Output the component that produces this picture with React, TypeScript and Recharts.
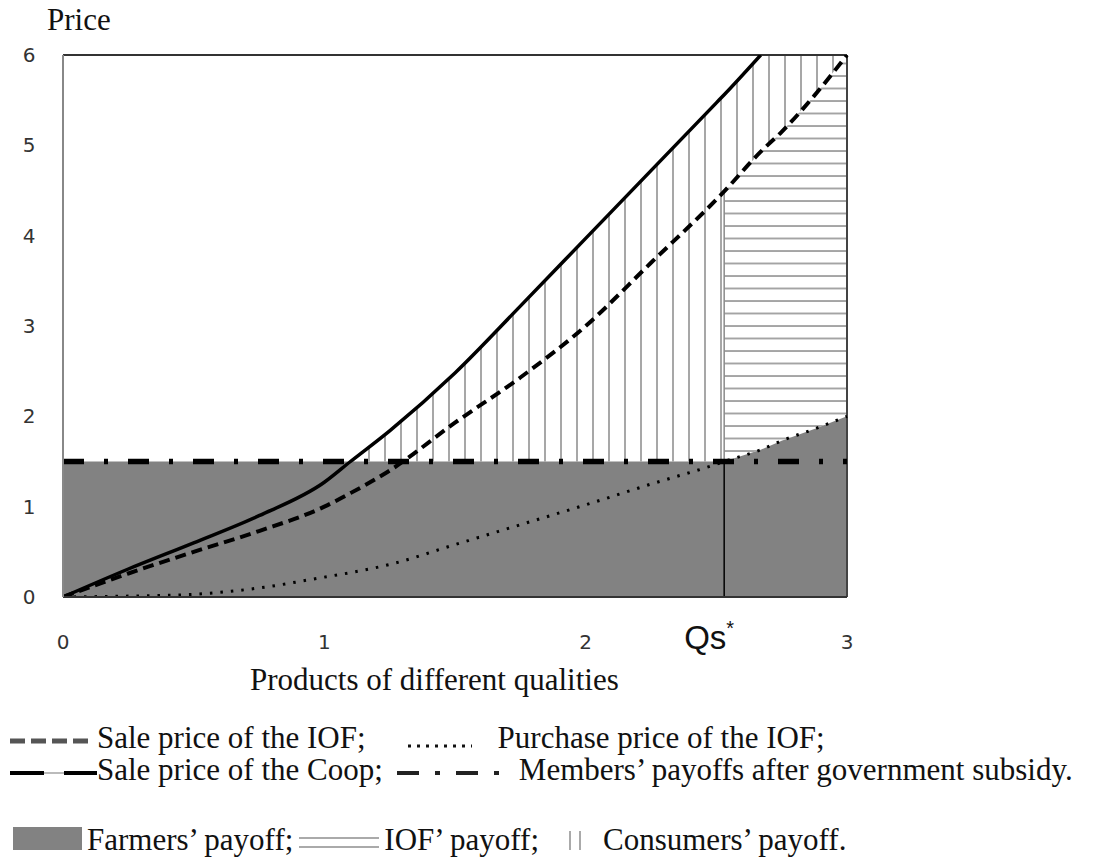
import React from 'react';
import { Area, ComposedChart, Line, ReferenceLine, XAxis, YAxis } from 'recharts';

const QS = 2.53;
const Y_MAX = 6;

// quality axis (x) and the four price curves
const Q = [0, 0.25, 0.5, 0.75, 1, 1.1, 1.25, 1.5, 1.75, 2, 2.25, 2.5, 2.53, 2.67, 2.75, 2.875, 3];
const COOP_SALE = [0, 0.31, 0.6, 0.9, 1.27, 1.5, 1.84, 2.48, 3.22, 3.97, 4.72, 5.47, 5.56, 6.0, null, null, null];
const IOF_SALE = [0, 0.26, 0.5, 0.73, 1.0, 1.15, 1.4, 1.93, 2.43, 3.0, 3.7, 4.4, 4.49, 4.93, 5.15, 5.55, 6.0];
const IOF_BUY = [0, 0.01, 0.03, 0.1, 0.22, 0.27, 0.36, 0.58, 0.8, 1.02, 1.25, 1.47, 1.5, 1.63, 1.73, 1.86, 2.0];
const SUBSIDY = [1.5, 1.5, 1.5, 1.5, 1.5, 1.5, 1.5, 1.5, 1.5, 1.5, 1.5, 1.5, 1.5, 1.5, 1.5, 1.5, 1.5];

const X_TICKS = [0, 1, 2, QS, 3];
const Y_TICKS = [0, 1, 2, 3, 4, 5, 6];

const SERIF = '"Liberation Serif", "Times New Roman", serif';
const TICK_FONT = '"DejaVu Sans", sans-serif';
const FARM_GRAY = '#828282';
const HATCH = '#8a8a8a';

const rows = Q.map((q, i) => {
  const coop = COOP_SALE[i];
  const top = coop == null ? Y_MAX : coop;
  return {
    q,
    coop,
    iofSale: IOF_SALE[i],
    iofBuy: IOF_BUY[i],
    subsidy: SUBSIDY[i],
    farmers: q <= QS ? SUBSIDY[i] : IOF_BUY[i],
    consumersLeft: q >= 1.1 && q <= QS ? [SUBSIDY[i], top] : null,
    consumersRight: q >= QS ? [IOF_SALE[i], top] : null,
    iof: q >= QS ? [IOF_BUY[i], IOF_SALE[i]] : null,
  };
});

function XTick({ x, payload }: any) {
  const y = 649;
  if (payload.value === QS) {
    return (
      <text x={x - 40} y={y} textAnchor="start" fontFamily='"Liberation Sans", Arial, sans-serif' fontSize={33} fill="#111">
        Qs
        <tspan dy={-14} fontSize={20}>*</tspan>
      </text>
    );
  }
  return (
    <text x={x} y={y} textAnchor="middle" fontFamily={TICK_FONT} fontSize={20} fill="#333">
      {payload.value}
    </text>
  );
}

function YTick({ y, payload }: any) {
  return (
    <text x={29} y={y + 7} textAnchor="middle" fontFamily={TICK_FONT} fontSize={20} fill="#333">
      {payload.value}
    </text>
  );
}

function Legend() {
  const row: React.CSSProperties = {
    position: 'absolute',
    left: 0,
    display: 'flex',
    alignItems: 'flex-start',
    whiteSpace: 'nowrap',
    fontFamily: SERIF,
    fontSize: 31,
    lineHeight: '31px',
    height: 31,
    color: '#111',
  };
  return (
    <>
      <div style={{ ...row, top: 722 }}>
        <svg width={97} height={31}>
          <line x1={10} y1={19} x2={90} y2={19} stroke="#555" strokeWidth={5} strokeDasharray="15 6" />
        </svg>
        <span>Sale price of the IOF;</span>
        <svg width={132} height={31}>
          <line x1={42} y1={24} x2={106} y2={24} stroke="#111" strokeWidth={3} strokeDasharray="3 6" />
        </svg>
        <span>Purchase price of the IOF;</span>
      </div>
      <div style={{ ...row, top: 754 }}>
        <svg width={97} height={31}>
          <line x1={10} y1={19} x2={95} y2={19} stroke="#bbb" strokeWidth={2} />
          <line x1={10} y1={19} x2={44} y2={19} stroke="#000" strokeWidth={4} />
          <line x1={64} y1={19} x2={97} y2={19} stroke="#000" strokeWidth={4} />
        </svg>
        <span>Sale price of the Coop;</span>
        <svg width={136} height={31}>
          <line x1={14} y1={19} x2={120} y2={19} stroke="#222" strokeWidth={4} strokeDasharray="22 16 5 16" />
        </svg>
        <span>Members’ payoffs after government subsidy.</span>
      </div>
      <div style={{ ...row, top: 824 }}>
        <svg width={87} height={31}>
          <rect x={13} y={3} width={69} height={23} fill={FARM_GRAY} />
        </svg>
        <span>Farmers’ payoff;</span>
        <svg width={91} height={31}>
          <line x1={6} y1={14} x2={86} y2={14} stroke="#aaa" strokeWidth={2} />
          <line x1={6} y1={23} x2={86} y2={23} stroke="#aaa" strokeWidth={2} />
        </svg>
        <span>IOF’ payoff;</span>
        <svg width={64} height={31}>
          <line x1={31} y1={7} x2={31} y2={26} stroke="#aaa" strokeWidth={2} />
          <line x1={41} y1={7} x2={41} y2={26} stroke="#aaa" strokeWidth={2} />
        </svg>
        <span>Consumers’ payoff.</span>
      </div>
    </>
  );
}

export default function App() {
  return (
    <div style={{ position: 'absolute', left: 0, top: 0, width: 1109, height: 858, background: '#fff' }}>
      <div style={{ position: 'absolute', left: 47, top: 4, fontFamily: SERIF, fontSize: 31, lineHeight: '31px', color: '#111' }}>
        Price
      </div>
      <ComposedChart width={1109} height={660} data={rows} margin={{ top: 55, right: 262, bottom: 0, left: 23 }}>
        <defs>
          <pattern id="hatchV" patternUnits="userSpaceOnUse" width={16} height={10}>
            <line x1={1} y1={0} x2={1} y2={10} stroke={HATCH} strokeWidth={1.5} />
          </pattern>
          <pattern id="hatchH" patternUnits="userSpaceOnUse" width={10} height={12.5}>
            <line x1={0} y1={1} x2={10} y2={1} stroke={HATCH} strokeWidth={1.5} />
          </pattern>
        </defs>
        <XAxis
          dataKey="q"
          type="number"
          domain={[0, 3]}
          ticks={X_TICKS}
          height={63}
          tick={<XTick />}
          tickLine={false}
          tickSize={0}
          axisLine={{ stroke: '#333', strokeWidth: 2 }}
        />
        <YAxis
          type="number"
          domain={[0, Y_MAX]}
          ticks={Y_TICKS}
          allowDataOverflow
          width={40}
          tickLine={false}
          tickSize={0}
          tick={<YTick />}
          axisLine={{ stroke: '#888', strokeWidth: 2 }}
        />
        <Area dataKey="farmers" type="linear" stroke="none" fill={FARM_GRAY} fillOpacity={1} isAnimationActive={false} />
        <Area dataKey="consumersLeft" type="linear" stroke="none" fill="url(#hatchV)" fillOpacity={1} isAnimationActive={false} />
        <Area dataKey="consumersRight" type="linear" stroke="none" fill="url(#hatchV)" fillOpacity={1} isAnimationActive={false} />
        <Area dataKey="iof" type="linear" stroke="none" fill="url(#hatchH)" fillOpacity={1} isAnimationActive={false} />
        <ReferenceLine segment={[{ x: QS, y: 0 }, { x: QS, y: 1.5 }]} stroke="#000" strokeWidth={1.5} />
        <ReferenceLine segment={[{ x: QS, y: 1.5 }, { x: QS, y: 4.49 }]} stroke={HATCH} strokeWidth={1.5} />
        <ReferenceLine y={Y_MAX} stroke="#333" strokeWidth={2} />
        <ReferenceLine x={3} stroke="#444" strokeWidth={2} />
        <Line dataKey="iofBuy" type="monotone" stroke="#000" strokeWidth={3} strokeDasharray="2.5 8" dot={false} isAnimationActive={false} />
        <Line dataKey="iofSale" type="monotone" stroke="#000" strokeWidth={4} strokeDasharray="11 6" dot={false} isAnimationActive={false} />
        <Line dataKey="subsidy" type="linear" stroke="#000" strokeWidth={5.5} strokeDasharray="21 20 4 20" dot={false} isAnimationActive={false} />
        <Line dataKey="coop" type="monotone" stroke="#000" strokeWidth={3.5} dot={false} isAnimationActive={false} />
      </ComposedChart>
      <div style={{ position: 'absolute', left: 250, top: 664, fontFamily: SERIF, fontSize: 31, lineHeight: '31px', color: '#111' }}>
        Products of different qualities
      </div>
      <Legend />
    </div>
  );
}
